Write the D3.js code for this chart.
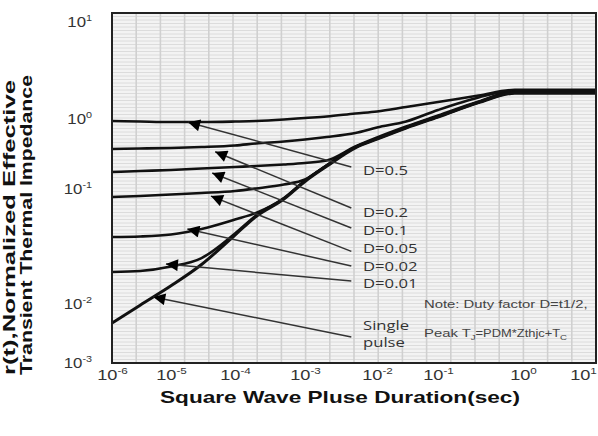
<!DOCTYPE html>
<html>
<head>
<meta charset="utf-8">
<script src="https://cdn.jsdelivr.net/npm/d3@7"></script>
<style>
body { margin: 0; background: #fff; }
svg { display: block; }
</style>
</head>
<body>
<div id="chart"></div>
<script>
//////////////////////////////
// DATA
//////////////////////////////

// pulse duration (sec), shared by every curve
const pulseTimes = [1e-6, 3e-6, 1e-5, 3e-5, 1e-4, 2e-4, 5e-4, 1e-3, 2e-3, 5e-3, 1e-2, 3e-2, 1e-1, 3e-1, 0.8, 3, 16.5]

// r(t) for each duty factor
const duty05 = [0.906, 0.891, 0.877, 0.877, 0.891, 0.906, 0.952, 1.0, 1.036, 1.113, 1.167, 1.298, 1.462, 1.706, 1.95, 1.95, 1.95]
const duty02 = [0.361, 0.367, 0.373, 0.385, 0.405, 0.432, 0.462, 0.493, 0.535, 0.611, 0.732, 0.891, 1.209, 1.627, 1.92, 1.92, 1.92]
const duty01 = [0.169, 0.175, 0.181, 0.190, 0.200, 0.206, 0.217, 0.228, 0.247, 0.392, 0.527, 0.756, 1.061, 1.479, 1.89, 1.89, 1.89]
const duty005 = [0.0835, 0.0852, 0.0878, 0.0905, 0.0942, 0.099, 0.112, 0.132, 0.211, 0.385, 0.511, 0.736, 1.041, 1.458, 1.87, 1.87, 1.87]
const duty002 = [0.0375, 0.0379, 0.0394, 0.0440, 0.0532, 0.0607, 0.0818, 0.128, 0.210, 0.383, 0.508, 0.732, 1.036, 1.452, 1.85, 1.85, 1.85]
const duty001 = [0.0186, 0.0190, 0.0208, 0.0246, 0.0402, 0.0577, 0.0813, 0.127, 0.208, 0.380, 0.505, 0.727, 1.031, 1.445, 1.82, 1.82, 1.82]
const singlePulse = [0.00458, 0.00918, 0.0141, 0.0216, 0.0390, 0.0565, 0.0802, 0.124, 0.204, 0.374, 0.498, 0.719, 1.02, 1.44, 1.80, 1.80, 1.80]

// axis ticks
const xTickValues = [1e-6, 1e-5, 1e-4, 1e-3, 1e-2, 1e-1, 1, 10]
const xTickExps = ['-6', '-5', '-4', '-3', '-2', '-1', '0', '1']
const yTickValues = [1e-3, 1e-2, 1e-1, 1, 10]
const yTickExps = ['-3', '-2', '-1', '0', '1']

// callouts
const labelNames = ['D=0.5', 'D=0.2', 'D=0.1', 'D=0.05', 'D=0.02', 'D=0.01']
const labelValues = [0.181, 0.0618, 0.0431, 0.0301, 0.021, 0.0149]
const labelTime = 6.4e-3
const headTimes = [1.85e-5, 4.9e-5, 4.4e-5, 4.2e-5, 1.8e-5, 8.2e-6, 5e-6]
const headValues = [0.87, 0.33, 0.164, 0.085, 0.044, 0.0218, 0.0113]
const tailTime = 4.4e-3
const tailValues = [0.2, 0.067, 0.0449, 0.0281, 0.021, 0.0155, 0.00265]
const singleLabel = ['Single', 'pulse']
const singleLabelValues = [0.00424, 0.00218]
const noteTime = 0.059
const noteValues = [0.0096, 0.0031]

//////////////////////////////
// SETUP
//////////////////////////////

const W = 598
const H = 436
const frame = {left: 112, top: 13, right: 596, bottom: 363}

const svg = d3.select('#chart').append('svg').attr('width', W).attr('height', H)
	.style('font-family', '"Liberation Sans", Arial, sans-serif')

const x = d3.scaleLog().domain(xTickValues).range([112, 171, 235, 305, 377, 438, 523, 583])
const y = d3.scaleLog().domain(yTickValues).range([362, 303, 188, 118, 21])

//////////////////////////////
// GRID
//////////////////////////////

const drawGrid = () => {
	let g = svg.append('g')
	g.append('rect')
		.attr('x', frame.left).attr('y', frame.top)
		.attr('width', frame.right - frame.left).attr('height', frame.bottom - frame.top)
		.style('fill', '#f3f3f3')

	let gy = d3.scaleLinear().domain([0, 100]).range([frame.top, frame.bottom])
	g.selectAll('.hg').data(d3.range(1, 100)).enter().append('line')
		.attr('x1', frame.left).attr('x2', frame.right)
		.attr('y1', gy).attr('y2', gy)
		.style('stroke', '#dcdcdc').style('stroke-width', 1)

	let gx = d3.scaleLinear().domain([0, 20]).range([frame.left, frame.right])
	g.selectAll('.vg').data(d3.range(1, 20)).enter().append('line')
		.attr('x1', gx).attr('x2', gx)
		.attr('y1', frame.top).attr('y2', frame.bottom)
		.style('stroke', '#d0d0d0').style('stroke-width', 1.6)
}

//////////////////////////////
// AXES
//////////////////////////////

const drawAxes = () => {
	let gx = svg.append('g').attr('transform', 'translate(0,' + frame.bottom + ')')
		.call(d3.axisBottom(x).tickValues(xTickValues).tickSize(0).tickFormat(''))
	gx.select('.domain').remove()
	gx.selectAll('.tick text').each(function (d, i) {
		let t = d3.select(this).attr('y', 0).attr('dy', null)
			.attr('transform', 'translate(0,17) scale(1.3,1)')
			.style('font-size', '14px').style('fill', '#333')
		t.append('tspan').text('10')
		t.append('tspan').attr('dy', -6).style('font-size', '9px').text(xTickExps[i])
	})

	let gy = svg.append('g').attr('transform', 'translate(' + frame.left + ',0)')
		.call(d3.axisLeft(y).tickValues(yTickValues).tickSize(0).tickFormat(''))
	gy.select('.domain').remove()
	gy.selectAll('.tick text').each(function (d, i) {
		let t = d3.select(this).attr('x', 0).attr('dy', null).attr('y', 5)
			.attr('transform', 'translate(-20,0) scale(1.2,1)')
			.style('font-size', '14px').style('fill', '#333')
		t.append('tspan').text('10')
		t.append('tspan').attr('dy', -6).style('font-size', '9px').text(yTickExps[i])
	})

	svg.append('text')
		.attr('x', 160).attr('y', 403)
		.attr('textLength', 360).attr('lengthAdjust', 'spacingAndGlyphs')
		.style('font-size', '16.5px').style('font-weight', 'bold').style('fill', '#111')
		.text('Square Wave Pluse Duration(sec)')

	let titles = [['r(t),Normalized Effective', 15, 295], ['Transient Thermal Impedance', 32, 300]]
	svg.selectAll('.ytitle').data(titles).enter().append('text')
		.attr('transform', (d) => 'translate(' + d[1] + ',375) rotate(-90)')
		.attr('textLength', (d) => d[2]).attr('lengthAdjust', 'spacingAndGlyphs')
		.style('font-size', '16px').style('font-weight', 'bold').style('fill', '#111')
		.text((d) => d[0])
}

//////////////////////////////
// CURVES
//////////////////////////////

const drawCurves = () => {
	let seriesList = [duty05, duty02, duty01, duty005, duty002, duty001, singlePulse]
	let line = d3.line()
		.x((d, i) => x(pulseTimes[i]))
		.y((d) => y(d))
		.curve(d3.curveMonotoneX)

	svg.append('g').selectAll('path').data(seriesList).enter().append('path')
		.attr('d', line)
		.style('fill', 'none')
		.style('stroke', '#111')
		.style('stroke-width', (d, i) => i == 6 ? 3 : 2.6)
}

//////////////////////////////
// CALLOUTS
//////////////////////////////

const drawCallouts = () => {
	svg.append('defs').append('marker')
		.attr('id', 'tri').attr('viewBox', '0 0 10 10')
		.attr('refX', 10).attr('refY', 5)
		.attr('markerUnits', 'userSpaceOnUse')
		.attr('markerWidth', 14).attr('markerHeight', 12)
		.attr('orient', 'auto')
		.append('path').attr('d', 'M0,0L10,5L0,10z').style('fill', '#000')

	svg.append('g').selectAll('line').data(headTimes).enter().append('line')
		.attr('x1', x(tailTime))
		.attr('y1', (d, i) => y(tailValues[i]))
		.attr('x2', (d) => x(d))
		.attr('y2', (d, i) => y(headValues[i]))
		.attr('marker-end', 'url(#tri)')
		.style('stroke', '#333').style('stroke-width', 1.5)

	let labels = labelNames.concat(singleLabel)
	let values = labelValues.concat(singleLabelValues)
	svg.append('g').selectAll('g').data(labels).enter().append('g')
		.attr('transform', (d, i) => 'translate(' + x(labelTime) + ',' + y(values[i]) + ') scale(1.28,1)')
		.append('text')
		.attr('dy', '0.36em')
		.style('font-family', '"Open Sans", sans-serif')
		.style('font-size', '13px').style('fill', '#333')
		.text((d) => d)

	let note = svg.append('g')
		.attr('transform', 'translate(' + x(noteTime) + ',' + y(noteValues[0]) + ') scale(1.29,1)')
		.append('text').attr('dy', '0.35em')
		.style('font-size', '11.5px').style('fill', '#444')
		.text('Note: Duty factor D=t1/2,')

	let peak = svg.append('g')
		.attr('transform', 'translate(' + x(noteTime) + ',' + y(noteValues[1]) + ') scale(1.29,1)')
		.append('text').attr('dy', '0.35em')
		.style('font-size', '11.5px').style('fill', '#444')
	peak.append('tspan').text('Peak T')
	peak.append('tspan').attr('dy', 3).style('font-size', '7.5px').text('J')
	peak.append('tspan').attr('dy', -3).style('font-size', '10px').text('=PDM*Zthjc+T')
	peak.append('tspan').attr('dy', 3).style('font-size', '7.5px').text('C')
}

//////////////////////////////
// FRAME
//////////////////////////////

const drawFrame = () => {
	svg.append('rect')
		.attr('x', frame.left).attr('y', frame.top)
		.attr('width', frame.right - frame.left).attr('height', frame.bottom - frame.top)
		.style('fill', 'none').style('stroke', '#222').style('stroke-width', 2)
}

drawGrid()
drawAxes()
drawCurves()
drawCallouts()
drawFrame()
</script>
</body>
</html>
